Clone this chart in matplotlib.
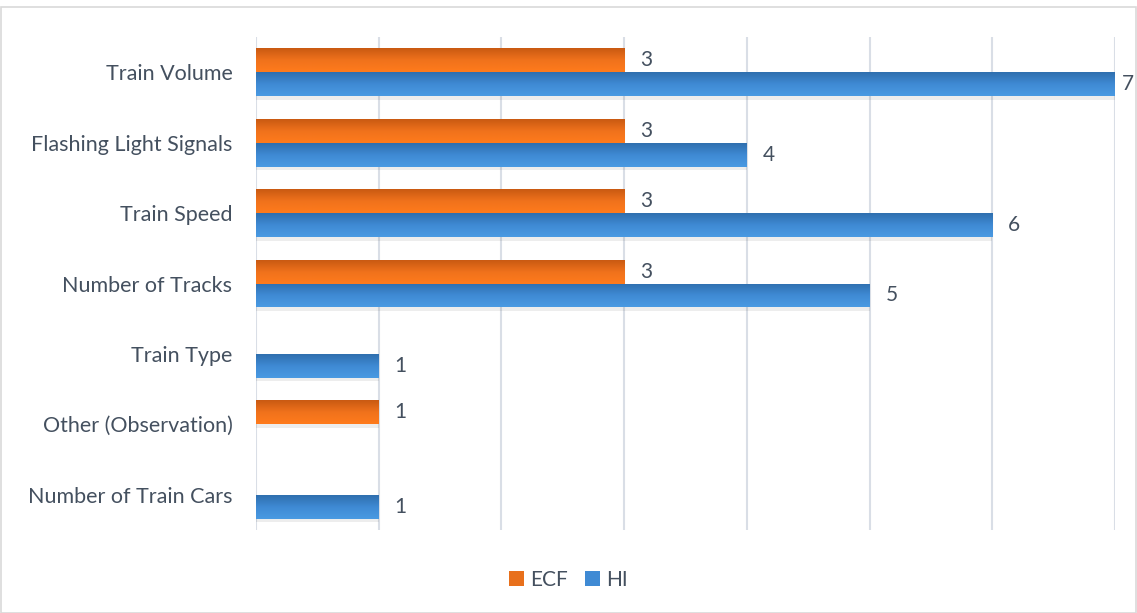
import matplotlib
matplotlib.use("Agg")
import matplotlib.pyplot as plt
import numpy as np
from matplotlib.colors import LinearSegmentedColormap
from matplotlib.patches import Rectangle, Patch

categories = ["Train Volume", "Flashing Light Signals", "Train Speed", "Number of Tracks",
              "Train Type", "Other (Observation)", "Number of Train Cars"]
ecf = [3, 3, 3, 3, None, 1, None]
hi = [7, 4, 6, 5, 1, None, 1]
series_names = ["ECF", "HI"]

text_color = "#44505f"
grid_color = "#d9dee6"
plt.rcParams['font.family'] = ['Lato', 'DejaVu Sans']

fig = plt.figure(figsize=(11.37, 6.13), dpi=100)
W, H = 1137, 613
ax = fig.add_axes([256 / W, 1 - 530 / H, (1115 - 256) / W, (530 - 37) / H])

n = len(categories)
y = np.arange(n)
h = 0.34

orange_cmap = LinearSegmentedColormap.from_list("o", ["#c95a12", "#f0721c", "#ff7b1c"])
blue_cmap = LinearSegmentedColormap.from_list("b", ["#2f6fae", "#3f8ad4", "#4a9ae2"])

def vals(a):
    return [np.nan if v is None else v for v in a]

bars_e = ax.barh(y - h / 2, vals(ecf), height=h, color="#f07a20", zorder=3)
bars_h = ax.barh(y + h / 2, vals(hi), height=h, color="#3f8bd6", zorder=3)

grad = np.linspace(0, 1, 64).reshape(-1, 1)
for bars, cmap in ((bars_e, orange_cmap), (bars_h, blue_cmap)):
    for p in bars:
        w = p.get_width()
        if not np.isfinite(w) or w == 0:
            continue
        x0, y0 = p.get_x(), p.get_y()
        hh = p.get_height()
        sh = Rectangle((x0, y0 + hh), w, 0.05, color="#000000", alpha=0.07, zorder=2, lw=0)
        ax.add_patch(sh)
        im = ax.imshow(grad, cmap=cmap, extent=[x0, x0 + w, y0 + hh, y0],
                       aspect="auto", zorder=4, interpolation="bicubic")
        im.set_clip_path(p)
        tx = min(x0 + w + 0.13, 7.055)
        ax.text(tx, y0 + hh / 2, f"{int(w)}", va="center", ha="left",
                fontsize=15, color=text_color, zorder=5, clip_on=False)

ax.set_xlim(0, 7)
ax.set_ylim(n - 0.5, -0.5)
ax.set_xticks(range(0, 8))
ax.set_xticklabels([])
ax.set_yticks(y)
ax.set_yticklabels(categories, fontsize=15.5, color=text_color)
ax.tick_params(axis="both", length=0, pad=17)
ax.grid(axis="x", color=grid_color, lw=1.5, zorder=0)
ax.grid(axis="y", visible=False)
for s in ax.spines.values():
    s.set_visible(False)

handles = [Patch(facecolor="#e8701c"), Patch(facecolor="#3f8ad4")]
fig.legend(handles, series_names, loc="center", bbox_to_anchor=(0.5, 1 - 580 / H), ncol=2,
           frameon=False, fontsize=15, labelcolor=text_color, handlelength=0.72,
           handleheight=0.72, handletextpad=0.3, columnspacing=0.8)

fig.patches.append(Rectangle((0.5 / W, 0.5 / H), 1 - 1.5 / W, 1 - 7 / H, transform=fig.transFigure,
                             fill=False, edgecolor="#d9d9d9", lw=1.2))

fig.savefig("out.png", dpi=100, facecolor="white")
